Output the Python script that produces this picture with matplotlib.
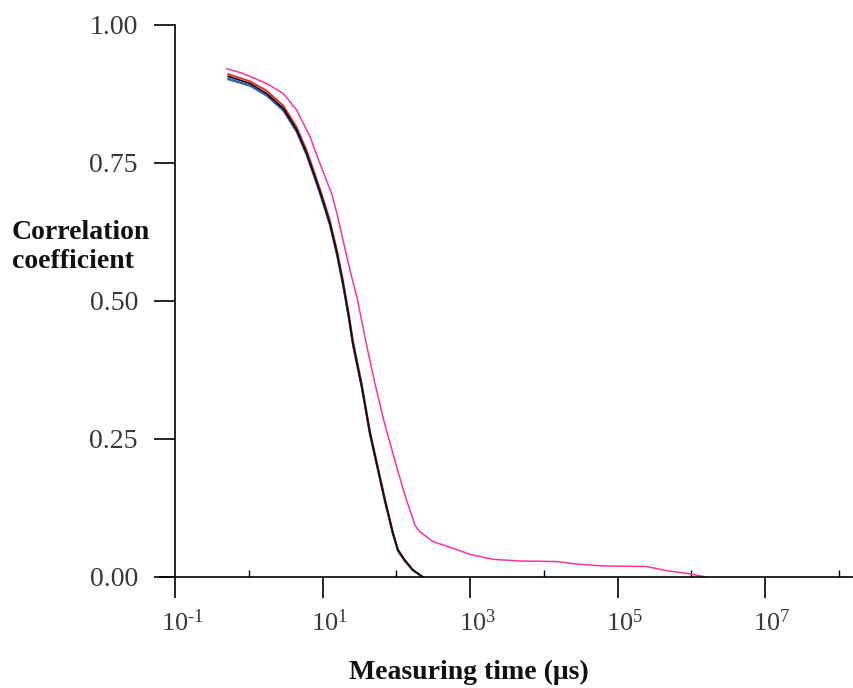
import matplotlib
matplotlib.use("Agg")
import matplotlib.pyplot as plt
import matplotlib.transforms as mtransforms
from matplotlib.ticker import FixedLocator, NullFormatter

plt.rcParams['font.family'] = ['Liberation Serif', 'DejaVu Serif']
plt.rcParams['mathtext.fontset'] = 'custom'
plt.rcParams['mathtext.rm'] = 'Liberation Serif'
plt.rcParams['mathtext.it'] = 'Liberation Serif'

# log10(time in us) and correlation values
log_t_main = [-0.284, 0.011, 0.237, 0.463, 0.645, 0.780, 0.893, 0.984, 1.096, 1.192, 1.273,
              1.354, 1.408, 1.530, 1.639, 1.843, 1.950, 2.019, 2.110, 2.220, 2.358]
corr_black = [0.907, 0.894, 0.876, 0.849, 0.810, 0.768, 0.725, 0.689, 0.641, 0.587, 0.533,
              0.471, 0.424, 0.345, 0.261, 0.139, 0.080, 0.049, 0.031, 0.013, 0.0]
corr_blue = [0.903, 0.890, 0.872, 0.845, 0.806, 0.764, 0.721, 0.685, 0.637, 0.583, 0.529,
             0.467, 0.420, 0.341, 0.258, 0.136, 0.078, 0.047, 0.029, 0.012, 0.0]
corr_green = [0.901, 0.890, 0.873, 0.847, 0.808, 0.766, 0.723, 0.687, 0.639, 0.585, 0.531,
              0.469, 0.422, 0.343, 0.260, 0.138, 0.080, 0.049, 0.031, 0.013, 0.0]
corr_red = [0.911, 0.898, 0.881, 0.854, 0.815, 0.773, 0.730, 0.694, 0.646, 0.592, 0.538,
            0.476, 0.429, 0.349, 0.265, 0.142, 0.082, 0.050, 0.031, 0.013, 0.0]

log_t_pink = [-0.305, -0.080, 0.237, 0.463, 0.645, 0.825, 0.961, 1.119, 1.191, 1.273, 1.368,
              1.463, 1.599, 1.707, 1.816, 1.866, 2.001, 2.137, 2.250, 2.317, 2.498, 2.769,
              2.996, 3.312, 3.674, 4.172, 4.444, 4.805, 5.393, 5.665, 5.936, 6.208]
corr_pink = [0.921, 0.912, 0.894, 0.876, 0.846, 0.798, 0.749, 0.695, 0.659, 0.611, 0.556,
             0.507, 0.417, 0.351, 0.290, 0.265, 0.200, 0.139, 0.094, 0.082, 0.064, 0.052,
             0.041, 0.032, 0.029, 0.028, 0.0235, 0.020, 0.019, 0.0115, 0.0067, 0.0]

major_exp = [-1, 1, 3, 5, 7]
minor_exp = [0, 2, 4, 6, 8]
y_ticks = [0.0, 0.25, 0.5, 0.75, 1.0]

fig = plt.figure(figsize=(8.54, 6.88), dpi=100)
ax = fig.add_axes([160 / 854, 111 / 688, 694 / 854, 552 / 688])

series = [
    (log_t_main, corr_green, '#3aa53a', 1.3),
    (log_t_main, corr_blue, '#3355cc', 1.3),
    (log_t_main, corr_red, '#ee2222', 1.3),
    (log_t_main, corr_black, '#111111', 1.3),
    (log_t_pink, corr_pink, '#ff3399', 1.1),
]
for lx, ly, c, w in series:
    ax.plot([10 ** v for v in lx], ly, color=c, lw=w)

ax.set_xscale('log')
ax.set_xlim(10 ** -1.21, 10 ** 8.21)
ax.set_ylim(0, 1.0)

ax.spines['top'].set_visible(False)
ax.spines['right'].set_visible(False)
ax.spines['left'].set_position(('data', 0.1))
for s in ['left', 'bottom']:
    ax.spines[s].set_linewidth(1.2)

ax.xaxis.set_major_locator(FixedLocator([10.0 ** e for e in major_exp]))
ax.xaxis.set_minor_locator(FixedLocator([10.0 ** e for e in minor_exp]))
ax.xaxis.set_minor_formatter(NullFormatter())
ax.set_xticklabels([r'$10^{\text{%d}}$' % e for e in major_exp])
ax.tick_params(axis='x', which='major', direction='out', length=15, width=1.2, pad=8,
               labelsize=19, labelcolor='#383838')
ax.tick_params(axis='x', which='minor', direction='in', length=5, width=1.0)

# labels in the original sit a little right of their ticks
shift = mtransforms.ScaledTranslation(7 / 100, 0, fig.dpi_scale_trans)
for lab in ax.get_xticklabels():
    lab.set_transform(lab.get_transform() + shift)

ax.set_yticks(y_ticks)
ax.set_yticklabels(['%.2f' % v for v in y_ticks])
ax.tick_params(axis='y', direction='out', length=15, width=1.2, pad=12,
               labelsize=20, labelcolor='#383838')

fig.text(12 / 854, 1 - 247 / 688, 'Correlation\ncoefficient', fontsize=20, fontweight='bold',
         ha='left', va='center', linespacing=1.2, color='#111111')
fig.text(469 / 854, 1 - 672 / 688, 'Measuring time (\u03bcs)', fontsize=20, fontweight='bold',
         ha='center', va='center', color='#111111')

fig.savefig('out.png', dpi=100)
